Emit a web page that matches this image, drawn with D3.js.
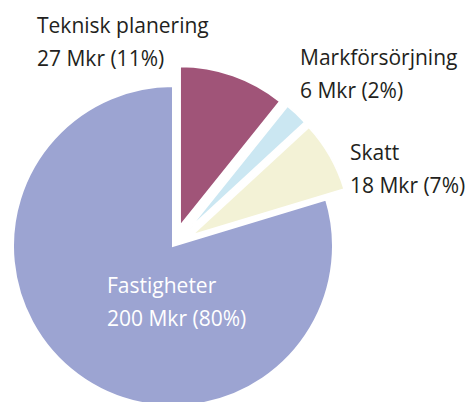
<!DOCTYPE html>
<html>
<head>
<meta charset="utf-8">
<script src="https://cdn.jsdelivr.net/npm/d3@7"></script>
<style>
  body { margin: 0; background: #fff; }
  svg text { font-family: "Open Sans", Lato, sans-serif; white-space: pre; }
</style>
</head>
<body>
<div id="chart"></div>
<script>
// data
var categories = ["Teknisk planering", "Markförsörjning", "Skatt", "Fastigheter"];
var values = [27, 6, 18, 200];
var percents = [11, 2, 7, 80];
var colors = ["#a05478", "#cbe7f2", "#f3f2d6", "#9ca4d2"];
var exploded = [true, true, true, false];

var width = 470, height = 402;
var cx = 173, cy = 246, radius = 160, pull = 21;

// label anchors (x, first baseline) in page px
var labelPos = [[37, 33], [300, 65], [350, 160], [107, 293]];
var labelColor = ["#231f20", "#231f20", "#231f20", "#fff"];

var svg = d3.select("#chart").append("svg")
    .attr("width", width)
    .attr("height", height);

var pie = d3.pie().sort(null).startAngle(0).endAngle(2 * Math.PI);
var arc = d3.arc().innerRadius(0).outerRadius(radius);

var g = svg.append("g").attr("transform", "translate(" + cx + "," + cy + ")");

g.selectAll("path")
    .data(pie(values))
  .enter().append("path")
    .attr("d", arc)
    .attr("fill", (d, i) => colors[i])
    .attr("stroke", "#fff")
    .attr("stroke-width", 2)
    .attr("transform", function(d, i) {
        if (!exploded[i]) return null;
        var a = (d.startAngle + d.endAngle) / 2;
        return "translate(" + (Math.sin(a) * pull) + "," + (-Math.cos(a) * pull) + ")";
    });

var labels = svg.selectAll("text.lbl")
    .data(categories)
  .enter().append("text")
    .attr("class", "lbl")
    .attr("x", (d, i) => labelPos[i][0])
    .attr("y", (d, i) => labelPos[i][1])
    .attr("fill", (d, i) => labelColor[i])
    .style("font-size", "21px");

labels.append("tspan")
    .attr("x", (d, i) => labelPos[i][0])
    .text(d => d);
labels.append("tspan")
    .attr("x", (d, i) => labelPos[i][0])
    .attr("dy", 32.5)
    .text((d, i) => values[i] + " Mkr (" + percents[i] + "%)");
</script>
</body>
</html>
